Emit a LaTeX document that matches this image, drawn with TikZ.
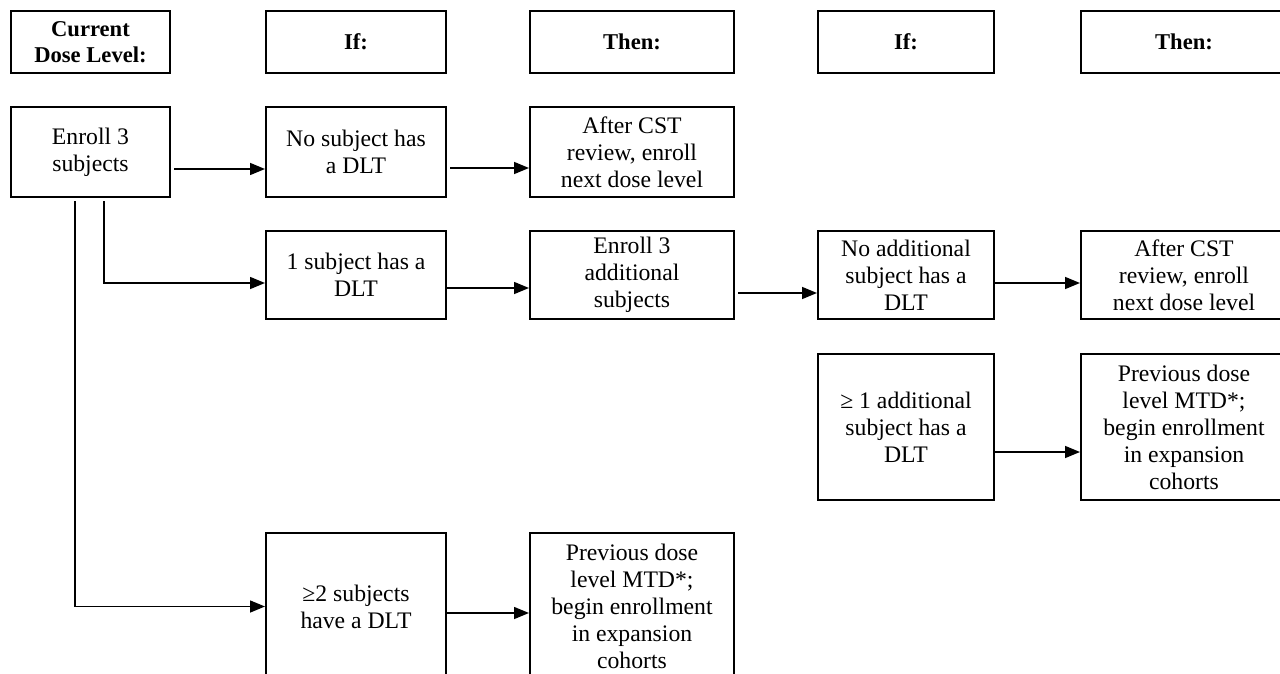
\documentclass[tikz,border=0pt]{standalone}
\usepackage{fontspec}
\setmainfont{Liberation Serif}
\usetikzlibrary{arrows.meta,calc}
\tikzset{
  bx/.style n args={2}{minimum width=#1*0.5pt, minimum height=#2*0.5pt},
  box/.style={draw, line width=1pt, inner sep=0pt, align=center,
    font=\fontsize{11.85}{13.5}\selectfont},
  hbox/.style={box, font=\fontsize{11.3}{13}\selectfont\bfseries},
  arr/.style={line width=0.75pt, -{Triangle[length=7.5pt,width=6pt]}},
  ln/.style={line width=0.75pt}
}
\begin{document}
\begin{tikzpicture}[x=0.5pt,y=-0.5pt]
\useasboundingbox (0,0) rectangle (1280,674);
\clip (0,0) rectangle (1280,674);
% headers
\node[hbox, bx={159}{62}] (h0) at (90.5,42) {Current\\Dose Level:};
\node[hbox, bx={180}{62}] (h1) at (356,42) {If:};
\node[hbox, bx={204}{62}] (h2) at (632,42) {Then:};
\node[hbox, bx={176}{62}] (h3) at (906,42) {If:};
\node[hbox, bx={206}{62}] (h4) at (1184,42) {Then:};
% row 1
\node[box, bx={159}{90}] (enroll) at (90.5,152) {Enroll 3\\subjects};
\node[box, bx={180}{90}] (nosub) at (356,152) {No subject has\\a DLT};
\node[box, bx={204}{90}] (after1) at (632,152) {After CST\\review, enroll\\next dose level};
% row 2
\node[box, bx={180}{88}] (onesub) at (356,275) {1 subject has a\\DLT};
\node[box, bx={204}{88}] (add3) at (632,275) {Enroll 3\\additional\\subjects};
\node[box, bx={176}{88}] (noadd) at (906,275) {No additional\\subject has a\\DLT};
\node[box, bx={206}{88}] (after2) at (1184,275) {After CST\\review, enroll\\next dose level};
% row 3
\node[box, bx={176}{146}] (ge1) at (906,427) {≥ 1 additional\\subject has a\\DLT};
\node[box, bx={206}{146}] (prev2) at (1184,427) {Previous dose\\level MTD*;\\begin enrollment\\in expansion\\cohorts};
% row 4
\node[box, bx={180}{147}] (twosub) at (356,606.5) {≥2 subjects\\have a DLT};
\node[box, bx={204}{147}] (prev1) at (632,606.5) {Previous dose\\level MTD*;\\begin enrollment\\in expansion\\cohorts};
% connectors
\draw[arr] ($(enroll.east)+(3,17)$) -- ($(nosub.west)+(0,17)$);
\draw[arr] ($(nosub.east)+(3,16)$) -- ($(after1.west)+(0,16)$);
\draw[arr] ($(enroll.south)+(13.5,3)$) |- ($(onesub.west)+(0,8)$);
\draw[arr] ($(enroll.south)+(-15.5,3)$) |- (twosub.west);
\draw[arr] ($(onesub.east)+(0,13)$) -- ($(add3.west)+(0,13)$);
\draw[arr] ($(add3.east)+(3,18)$) -- ($(noadd.west)+(0,18)$);
\draw[arr] ($(noadd.east)+(0,8)$) -- ($(after2.west)+(0,8)$);
\draw[arr] ($(ge1.east)+(0,25)$) -- ($(prev2.west)+(0,25)$);
\draw[arr] ($(twosub.east)+(0,6.5)$) -- ($(prev1.west)+(0,6.5)$);
\end{tikzpicture}
\end{document}
